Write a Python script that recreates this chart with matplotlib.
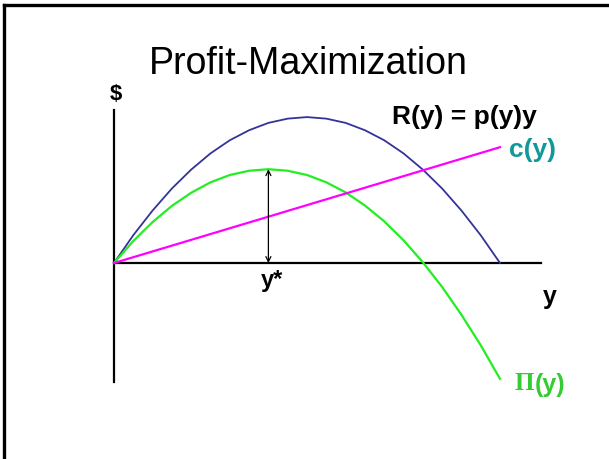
import matplotlib.pyplot as plt
import numpy as np

plt.rcParams['font.family'] = ['Liberation Sans', 'DejaVu Sans']

# output y and the curves
y_vals = [0, 0.5, 1, 1.5, 2, 2.5, 3, 3.5, 4, 4.5, 5,
          5.5, 6, 6.5, 7, 7.5, 8, 8.5, 9, 9.5, 10]
revenue = [0, 0.72, 1.36, 1.93, 2.42, 2.84, 3.18, 3.44, 3.63, 3.74, 3.78,
           3.74, 3.63, 3.44, 3.18, 2.84, 2.42, 1.93, 1.36, 0.72, 0]
profit = [0, 0.57, 1.06, 1.48, 1.82, 2.09, 2.28, 2.39, 2.43, 2.39, 2.28,
          2.09, 1.83, 1.49, 1.08, 0.59, 0.02, -0.62, -1.34, -2.13, -3.0]
cost_y = [0, 10]
cost = [0, 3.0]
y_star = 4.0
profit_max = 2.43

px = 38.6  # pixels per unit
fig = plt.figure(figsize=(6.09, 4.59), dpi=100)
ax = fig.add_axes([0, 0, 1, 1])
ax.set_xlim(-114 / px, (609 - 114) / px)
ax.set_ylim((263 - 459) / px, 263 / px)
ax.axis('off')

# slide frame (left and top edges)
fig.add_artist(plt.Line2D([4 / 609, 4 / 609], [0, 1 - 5 / 459], color='black', lw=2.4))
fig.add_artist(plt.Line2D([4 / 609, 1], [1 - 5 / 459, 1 - 5 / 459], color='black', lw=2.4))

# axes
ax.plot([0, 0], [(263 - 382) / px, (263 - 110) / px], color='black', lw=1.6)
ax.plot([0, (541 - 114) / px], [0, 0], color='black', lw=1.6)

ax.plot(y_vals, revenue, color='#333399', lw=1.3)
ax.plot(y_vals, profit, color='#22ee22', lw=1.6)
ax.plot(cost_y, cost, color='#ff00ff', lw=1.6)

ax.annotate('', xy=(y_star, profit_max), xytext=(y_star, 0),
            arrowprops=dict(arrowstyle='<->', color='black', lw=0.9,
                            shrinkA=0, shrinkB=0, mutation_scale=9))

ax.text((308 - 114) / px, (263 - 64) / px, 'Profit-Maximization', fontsize=27,
        ha='center', va='center')
ax.text((116 - 114) / px, (263 - 95) / px, '$', fontsize=16, fontweight='bold',
        ha='center', va='center')
ax.text((464 - 114) / px, (263 - 117) / px, 'R(y) = p(y)y', fontsize=19,
        fontweight='bold', ha='center', va='center')
ax.text((533 - 114) / px, (263 - 150) / px, 'c(y)', fontsize=19,
        fontweight='bold', ha='center', va='center', color='#119999')
ax.text((272 - 114) / px, (263 - 281) / px, 'y*', fontsize=17, fontweight='bold',
        ha='center', va='center')
ax.text((550 - 114) / px, (263 - 297) / px, 'y', fontsize=18, fontweight='bold',
        ha='center', va='center')
ax.text((524 - 114) / px, (263 - 384) / px, 'Π', fontsize=18, fontweight='bold',
        family='Liberation Serif', ha='center', va='center', color='#33cc33')
ax.text((550 - 114) / px, (263 - 385) / px, '(y)', fontsize=18, fontweight='bold',
        ha='center', va='center', color='#33cc33')

fig.savefig('out.png', dpi=100)
